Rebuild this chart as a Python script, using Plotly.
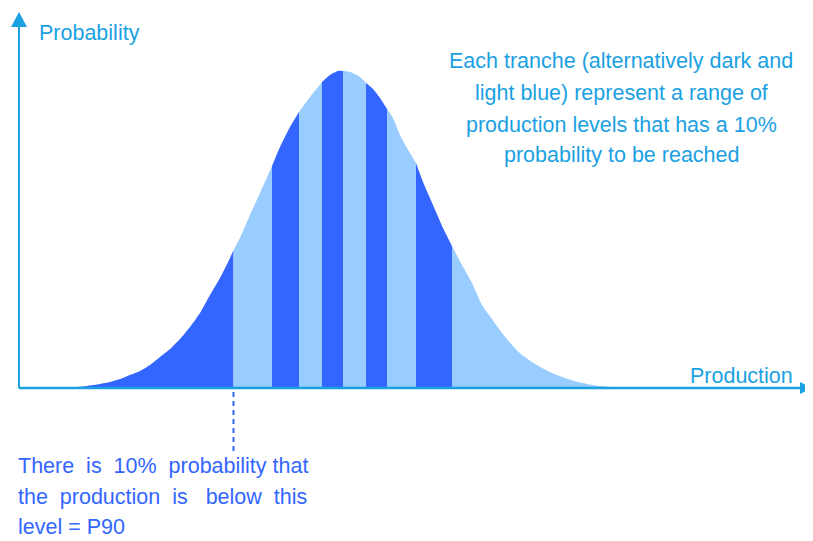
import plotly.graph_objects as go

# production level (x) and probability height
production = [44, 58, 68, 81, 91, 101, 111, 121, 131, 141, 151, 161, 171, 181, 191, 201, 211,
              214.5, 221, 231, 241, 253, 261, 271, 280, 291, 303, 311, 319, 324, 331, 341, 347,
              354, 361, 368, 374, 381, 388, 397, 404, 414, 424, 433, 443, 453, 463, 473, 483,
              493, 503, 513, 523, 533, 546, 559, 576, 593, 606]
probability = [0.5, 1, 2, 4, 6, 9, 13, 17, 23, 31, 39, 49, 61, 75, 93, 110, 130,
               138, 150, 173, 195, 222, 241, 261, 276, 291, 306, 313, 317, 317, 316, 311, 305,
               299, 290, 279, 270, 253, 240, 225, 206, 183, 160, 142, 123, 105, 83, 69, 55,
               43, 33, 26, 20, 15, 10, 6, 2.5, 1, 0.5]

# decile limits (P90 ... P10) on the production axis
deciles = [214.5, 253, 280, 303, 324, 347, 368, 397, 433]

NB = "\u00a0"
note_lines = ["Each tranche (alternatively dark and",
              "light blue) represent a range of",
              "production levels that has a 10%",
              "probability to be reached"]
p90_lines = [f"There {NB}is {NB}10% {NB}probability that",
             f"the {NB}production {NB}is {NB}{NB}below {NB}this",
             "level = P90"]

DARK = "#3366FF"
LIGHT = "#99CCFF"
AXIS = "#1BA1E2"
FONT = "Liberation Sans, Arial, sans-serif"

fig = go.Figure()

edges = [production[0]] + deciles + [production[-1]]
for i in range(len(edges) - 1):
    lo, hi = edges[i], edges[i + 1]
    xs = [x for x in production if lo <= x <= hi]
    ys = [y for x, y in zip(production, probability) if lo <= x <= hi]
    fig.add_trace(go.Scatter(x=xs, y=ys, mode='lines', fill='tozeroy',
                             line=dict(width=0, shape='spline', smoothing=0.6),
                             fillcolor=DARK if i % 2 == 0 else LIGHT,
                             hoverinfo='skip', showlegend=False))

## axes with arrows
fig.add_shape(type='line', x0=0, x1=784, y0=0, y1=0, line=dict(color=AXIS, width=2.5))
fig.add_shape(type='line', x0=0, x1=0, y0=0, y1=362, line=dict(color=AXIS, width=2))
fig.add_shape(type='path', path='M -8,361 L 8,361 L 0,376 Z', fillcolor=AXIS, line=dict(width=0))
fig.add_shape(type='path', path='M 781,6 L 781,-6 L 793,0 Z', fillcolor=AXIS, line=dict(width=0))

## P90 marker
fig.add_shape(type='line', x0=deciles[0], x1=deciles[0], y0=-4, y1=-65,
              line=dict(color=DARK, width=2, dash='5px,4px'))

fig.add_annotation(x=18, y=355, text="Probability", showarrow=False, xanchor='left',
                   font=dict(family=FONT, size=21.5, color=AXIS))
fig.add_annotation(x=776, y=12, text="Production", showarrow=False, xanchor='right',
                   font=dict(family=FONT, size=21.5, color=AXIS))

for line, y in zip(note_lines, [327, 295, 263, 233]):
    fig.add_annotation(x=602, y=y, text=line, showarrow=False,
                       font=dict(family=FONT, size=21.5, color=AXIS))

for line, y in zip(p90_lines, [-78, -109, -139]):
    fig.add_annotation(x=-3, y=y, text=line, showarrow=False, xanchor='left',
                       font=dict(family=FONT, size=21.5, color=DARK))

# the page puts the figure 8px in from the top-left corner
fig.update_xaxes(range=[-11, 794], visible=False, fixedrange=True)
fig.update_yaxes(range=[-153, 380], visible=False, fixedrange=True)
fig.update_layout(width=805, height=533, margin=dict(l=0, r=0, t=0, b=0),
                  plot_bgcolor='white', paper_bgcolor='white')

fig.write_html("out.html", config={'displayModeBar': False})
